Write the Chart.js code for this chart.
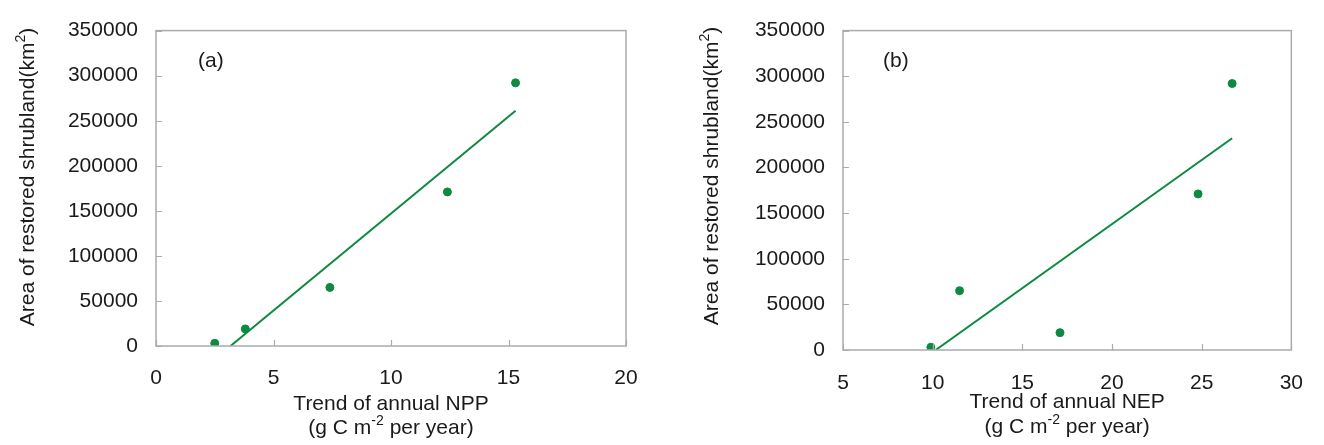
<!DOCTYPE html>
<html><head><meta charset="utf-8">
<script src="https://cdn.jsdelivr.net/npm/chart.js@4/dist/chart.umd.min.js"></script>
<style>
html,body{margin:0;padding:0;background:#fff;}
#wrap{position:relative;width:1324px;height:445px;overflow:hidden;background:#fff;}
.panel{position:absolute;top:0;height:445px;width:662px;}
</style></head><body>
<div id="wrap">
<div class="panel" style="left:0;"><canvas id="cA"></canvas></div>
<div class="panel" style="left:662px;"><canvas id="cB"></canvas></div>
</div>
<script>
// ---- data ----
const nppTrend = [2.5, 3.8, 7.4, 12.4, 15.3];
const areaA    = [3000, 19000, 65000, 171000, 292000];
const nepTrend = [9.9, 11.5, 17.1, 24.8, 26.7];
const areaB    = [3000, 65000, 19000, 171000, 292000];
const fitAX = [3.17, 15.3];
const fitAY = [0, 261000];
const fitBX = [10.17, 26.7];
const fitBY = [0, 232000];
const xTicksA = [0, 5, 10, 15, 20];
const xTicksB = [5, 10, 15, 20, 25, 30];
const yTicks  = [0, 50000, 100000, 150000, 200000, 250000, 300000, 350000];
const yTitle = ['Area of restored shrubland(km', '2', ')'];
const xTitleA = 'Trend of annual NPP';
const xTitleB = 'Trend of annual NEP';
const xUnit = ['(g C m', '-2', ' per year)'];

const GREEN = '#0d8a3f';
const AXIS = '#ababab';
const TXT = '#1a1a1a';
const FONT = "'Liberation Sans', Arial, sans-serif";
const FS = 21;

function pts(xs, ys){ return xs.map((x,i)=>({x:x, y:ys[i]})); }

function drawParts(ctx, parts, cx, y){
  // parts: [text, sup, text]
  const widths = parts.map((t,i)=>{ ctx.font = (i===1? '14px ':FS+'px ')+FONT; return ctx.measureText(t).width; });
  const total = widths.reduce((a,b)=>a+b,0);
  let x = cx - total/2;
  parts.forEach((t,i)=>{
    ctx.font = (i===1? '14px ':FS+'px ')+FONT;
    ctx.fillText(t, x, i===1 ? y-9 : y);
    x += widths[i];
  });
}

const deco = {
  id:'deco',
  afterDraw(chart, args, o){
    const ctx = chart.ctx, a = chart.chartArea, xs = chart.scales.x, ys = chart.scales.y;
    ctx.save();
    ctx.strokeStyle = AXIS; ctx.lineWidth = 1.5;
    ctx.strokeRect(a.left, a.top, a.right-a.left, a.bottom-a.top);
    ctx.lineWidth = 1.2;
    ctx.beginPath();
    xs.ticks.forEach(t=>{ const p = Math.round(xs.getPixelForValue(t.value))+0.5; ctx.moveTo(p, a.bottom); ctx.lineTo(p, a.bottom-6); });
    ys.ticks.forEach(t=>{ const p = Math.round(ys.getPixelForValue(t.value))+0.5; ctx.moveTo(a.left, p); ctx.lineTo(a.left+6, p); });
    ctx.stroke();
    ctx.fillStyle = TXT;
    ctx.textBaseline = 'alphabetic';
    ctx.textAlign = 'left';
    // panel label
    ctx.font = FS+'px '+FONT;
    ctx.fillText(o.label, o.labelX, 67);
    // x title
    const cx = (a.left + a.right)/2;
    ctx.font = FS+'px '+FONT;
    const w1 = ctx.measureText(o.line1).width;
    ctx.fillText(o.line1, cx - w1/2, o.xl1);
    drawParts(ctx, xUnit, cx, o.xl2);
    // y title
    ctx.translate(o.yTitleX + 7.5, o.yTitleY);
    ctx.rotate(-Math.PI/2);
    drawParts(ctx, yTitle, 0, 0);
    ctx.restore();
  }
};

function makeChart(id, xv, yv, fx, fy, xTicks, xmin, xmax, cfg){
  return new Chart(document.getElementById(id), {
    type:'scatter',
    data:{ datasets:[
      { data: pts(xv, yv), backgroundColor: GREEN, borderColor: GREEN, pointRadius: 4, pointHoverRadius: 4, showLine:false },
      { data: pts(fx, fy), borderColor: GREEN, backgroundColor: GREEN, borderWidth: 2, pointRadius: 0, showLine: true }
    ]},
    options:{
      responsive:true, maintainAspectRatio:false, animation:false,
      layout:{ padding:{ top: cfg.top, right: cfg.right, left:0, bottom:0 } },
      plugins:{ legend:{display:false}, tooltip:{enabled:false}, deco: cfg },
      scales:{
        x:{ type:'linear', min:xmin, max:xmax,
            afterBuildTicks: s => { s.ticks = xTicks.map(v=>({value:v})); },
            afterFit: s => { s.height = cfg.xh; },
            grid:{ display:false, drawTicks:false }, border:{ display:false },
            ticks:{ color:TXT, font:{ family:FONT, size:FS }, padding: cfg.xpad, maxRotation:0, autoSkip:false, callback: v => String(v) } },
        y:{ type:'linear', min:0, max:350000,
            afterBuildTicks: s => { s.ticks = yTicks.map(v=>({value:v})); },
            afterFit: s => { s.width = cfg.yw; },
            grid:{ display:false, drawTicks:false }, border:{ display:false },
            ticks:{ color:TXT, font:{ family:FONT, size:FS }, padding: 18, autoSkip:false, callback: v => String(v) } }
      }
    },
    plugins:[deco]
  });
}

makeChart('cA', nppTrend, areaA, fitAX, fitAY, xTicksA, 0, 20,
  { top:23, right:36, xh:99, yw:156, xpad:20, label:'(a)', labelX:198, yTitleX:26, yTitleY:177, xl1:410, xl2:434, line1:xTitleA });
makeChart('cB', nepTrend, areaB, fitBX, fitBY, xTicksB, 5, 30,
  { top:22, right:14, xh:95, yw:181, xpad:21, label:'(b)', labelX:221, yTitleX:48, yTitleY:176, xl1:408, xl2:433, line1:xTitleB });
</script>
</body></html>
